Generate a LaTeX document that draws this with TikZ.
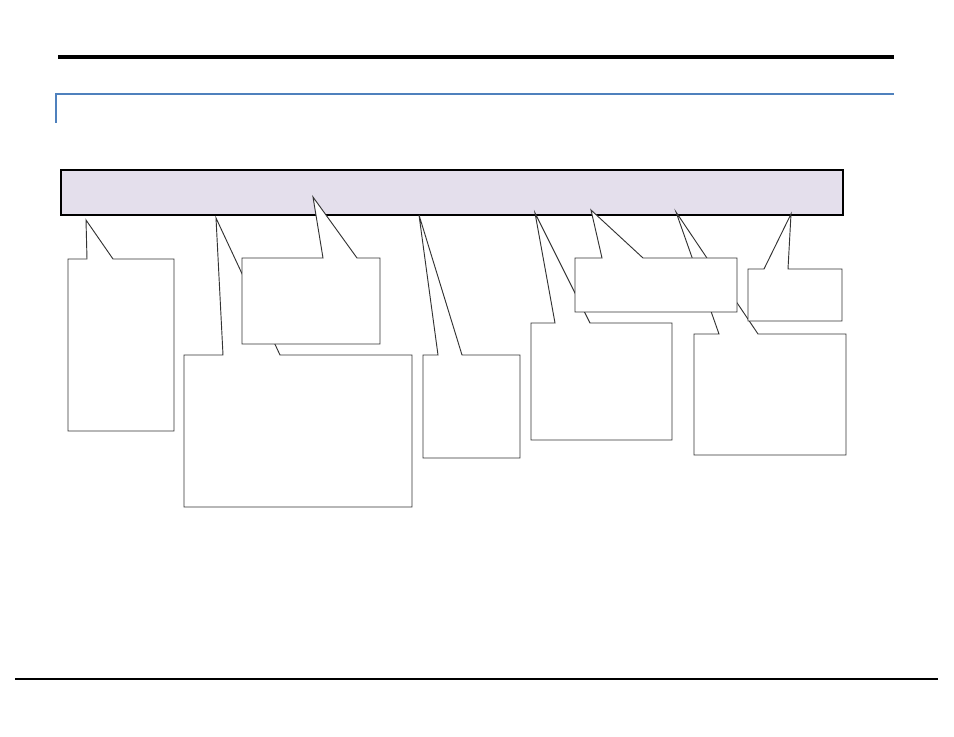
\documentclass[tikz,border=0pt]{standalone}
\usepackage{tikz}

\definecolor{bannerfill}{HTML}{E4DFEC}
\definecolor{rulesblue}{HTML}{4F81BD}

\tikzset{
  bubble/.style={fill=white, draw=black!80, line width=0.7pt, line join=miter},
  banner/.style={fill=bannerfill, draw=black, line width=0.8pt}
}

\begin{document}
\begin{tikzpicture}[x=0.75pt, y=-0.75pt]
\useasboundingbox (0,0) rectangle (954,737);
% header and footer rules
\draw[black, line width=2.4pt] (58,57) -- (894,57);
\draw[rulesblue, line width=0.8pt] (56,123) -- (56,94) -- (894,94);
\draw[black, line width=0.8pt] (15,679) -- (938,679);
% banner
\draw[banner] (61,170) rectangle (843,215);
% callouts
\draw[bubble] (68,259) -- (87,259) -- (86,220) -- (113,259) -- (174,259) -- (174,431) -- (68,431) -- cycle;
\draw[bubble] (184,355) -- (223,355) -- (216,218) -- (280,355) -- (412,355) -- (412,507) -- (184,507) -- cycle;
\draw[bubble] (242,258) -- (323,258) -- (313,197) -- (357,258) -- (380,258) -- (380,344) -- (242,344) -- cycle;
\draw[bubble] (423,355) -- (438,355) -- (419,215) -- (462,355) -- (520,355) -- (520,458) -- (423,458) -- cycle;
\draw[bubble] (531,323) -- (555,323) -- (535,213) -- (590,323) -- (672,323) -- (672,440) -- (531,440) -- cycle;
\draw[bubble] (694,334) -- (719,334) -- (676,212) -- (758,334) -- (846,334) -- (846,455) -- (694,455) -- cycle;
\draw[bubble] (575,258) -- (602,258) -- (591,210) -- (643,258) -- (737,258) -- (737,312) -- (575,312) -- cycle;
\draw[bubble] (748,269) -- (764,269) -- (791,214) -- (788,269) -- (842,269) -- (842,321) -- (748,321) -- cycle;
\end{tikzpicture}
\end{document}
